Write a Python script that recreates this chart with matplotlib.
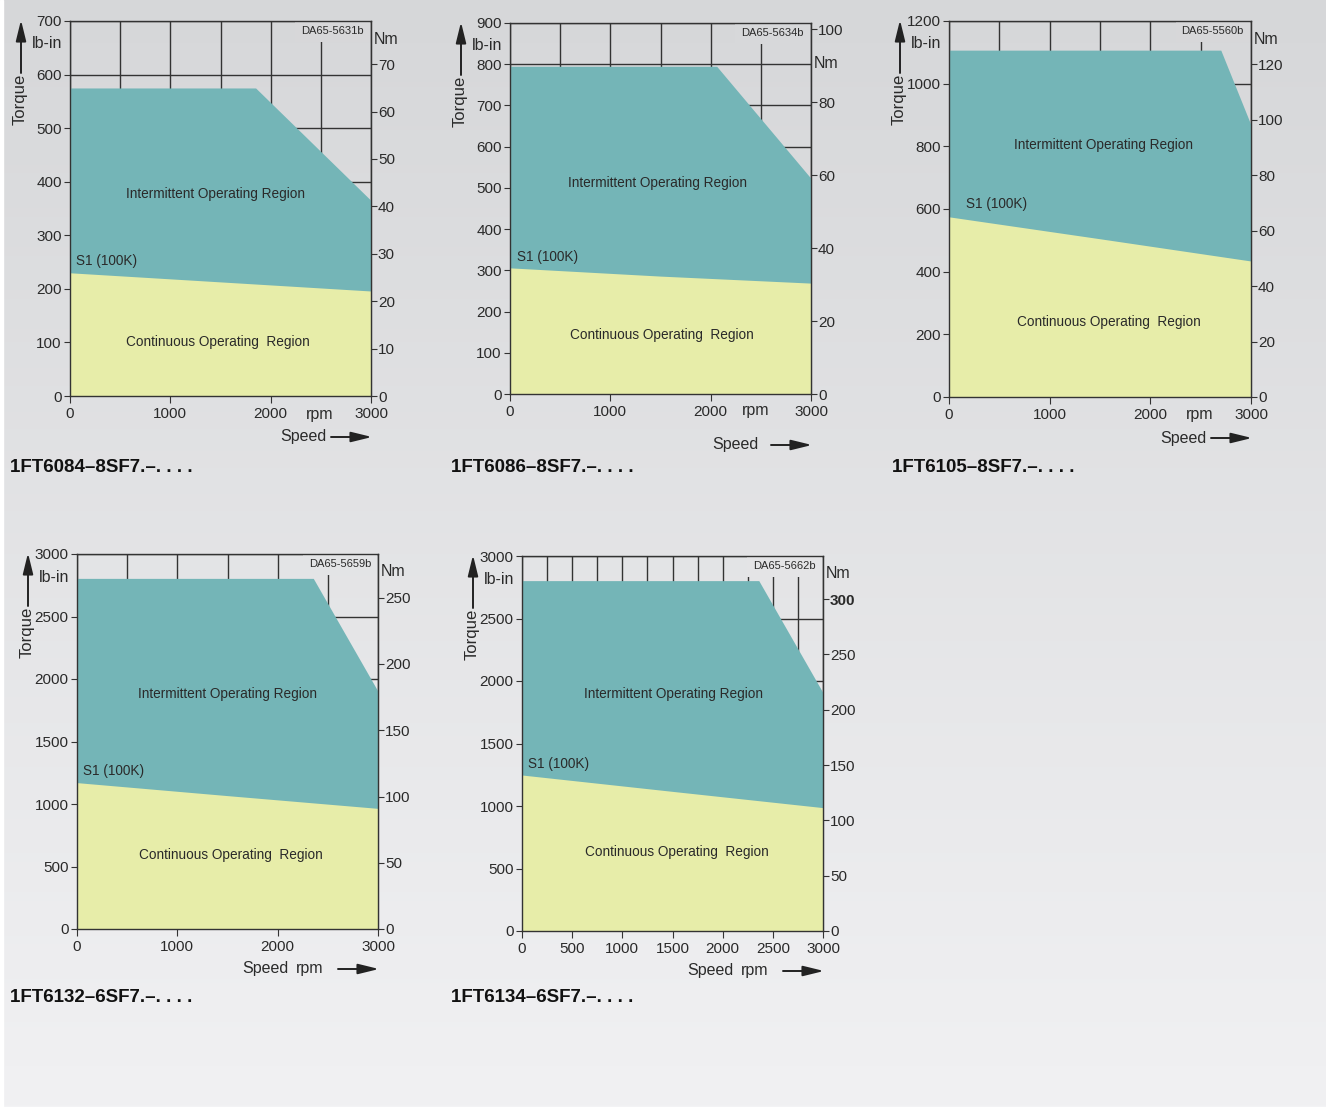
import numpy as np
import matplotlib
matplotlib.use('Agg')
import matplotlib.pyplot as plt
from matplotlib.ticker import MultipleLocator

plt.rcParams['font.family'] = ['Liberation Sans', 'DejaVu Sans']

W, H = 1326, 1109

# torque curves (lb-in over rpm)
names = ['1FT6084–8SF7.–. . . .', '1FT6086–8SF7.–. . . .', '1FT6105–8SF7.–. . . .',
         '1FT6132–6SF7.–. . . .', '1FT6134–6SF7.–. . . .']
codes = ['DA65-5631b', 'DA65-5634b', 'DA65-5560b', 'DA65-5659b', 'DA65-5662b']
peak_speed = [[0, 1850, 3000], [0, 2060, 3000], [0, 2700, 3000], [0, 2355, 3000], [0, 2360, 3000]]
peak_torque = [[575, 575, 365], [795, 795, 523], [1107, 1107, 868], [2805, 2805, 1901], [2803, 2803, 1906]]
s1_speed = [[0, 1500, 3000]] * 5
s1_torque = [[230, 213, 196], [306, 286, 269], [575, 505, 434], [1171, 1067, 965], [1248, 1117, 987]]
y_max = [700, 900, 1200, 3000, 3000]
y_step = [100, 100, 200, 500, 500]
x_label_step = [1000, 1000, 1000, 1000, 500]
x_grid_step = [500, 500, 500, 500, 250]
nm_ticks = [list(range(0, 71, 10)), list(range(0, 101, 20)), list(range(0, 121, 20)),
            list(range(0, 251, 50)), list(range(0, 301, 50))]
nm_factor = [8.85, 8.85, 8.85, 10.6, 8.85]  # lb-in per Nm as printed on each chart

# layout in pixels: axes box (left, right, top, bottom)
boxes = [(70, 371, 21, 396), (510, 811, 23, 394), (949, 1251, 21, 397),
         (77, 378, 554, 929), (522, 823, 556, 931)]
int_lbl = [(215, 194), (657, 183), (1104, 145), (228, 694), (673, 694)]
cont_lbl = [(218, 342), (662, 335), (1109, 322), (231, 855), (677, 852)]
s1_lbl = [(76, 261), (517, 257), (966, 204), (83, 771), (528, 764)]
title_xy = [(10, 468), (451, 468), (892, 468), (10, 998), (451, 998)]
nm_dy = [18, 40, 18, 18, 18]
speed_xy = [(-68, 41), (-76, 51), (-68, 41), (-113, 40), (-113, 40)]
rpm_xy = [(-51, 18), (-55, 16), (-51, 18), (-68, 40), (-68, 40)]
arrow_y = [41, 51, 41, 40, 40]

teal = '#74b5b7'
yellow = '#e7eda9'
ink = '#2a2a2a'
line_c = '#333333'
bg_top = np.array([214, 215, 217]) / 255
bg_bot = np.array([241, 241, 243]) / 255


def bg_at(y):
    t = y / H
    return tuple(bg_top * (1 - t) + bg_bot * t)


fig = plt.figure(figsize=(W / 100, H / 100), dpi=100)
bg = fig.add_axes([0, 0, 1, 1], zorder=-5)
t = np.linspace(0, 1, 256)[:, None]
grad = bg_top[None, None, :] * (1 - t[..., None]) + bg_bot[None, None, :] * t[..., None]
grad = np.repeat(grad, 4, axis=1)
bg.imshow(grad, aspect='auto', extent=(0, W, H, 0))
bg.axvspan(0, 3, color='white')
bg.axhspan(H - 2, H, color='white')
bg.set_xlim(0, W)
bg.set_ylim(H, 0)
bg.axis('off')


def put(s, x, y, **kw):
    kw.setdefault('color', ink)
    kw.setdefault('fontsize', 11)
    fig.text(x / W, 1 - y / H, s, zorder=10, **kw)


def arrow(x0, y0, x1, y1):
    fig.add_artist(matplotlib.patches.FancyArrowPatch(
        (x0 / W, 1 - y0 / H), (x1 / W, 1 - y1 / H), transform=fig.transFigure,
        arrowstyle='-|>,head_length=0.9,head_width=0.22', lw=1.4, color='#222222',
        shrinkA=0, shrinkB=0, mutation_scale=14, zorder=10))


for i in range(5):
    L, R, T, B = boxes[i]
    ax = fig.add_axes([L / W, 1 - B / H, (R - L) / W, (B - T) / H])
    ax.set_facecolor('none')
    ax.set_xlim(0, 3000)
    ax.set_ylim(0, y_max[i])

    # intermittent region first (down to zero), continuous region on top
    ax.fill_between(peak_speed[i], 0, peak_torque[i], color=teal, lw=0, zorder=1)
    ax.fill_between(s1_speed[i], 0, s1_torque[i], color=yellow, lw=0, zorder=1.1)

    ax.xaxis.set_major_locator(MultipleLocator(x_label_step[i]))
    ax.xaxis.set_minor_locator(MultipleLocator(x_grid_step[i]))
    ax.yaxis.set_major_locator(MultipleLocator(y_step[i]))
    ax.set_axisbelow(True)
    ax.grid(True, which='major', color=line_c, lw=1.0)
    ax.grid(True, which='minor', axis='x', color=line_c, lw=1.0)
    ax.tick_params(axis='y', direction='out', length=4, pad=2, labelsize=11,
                   color=line_c, labelcolor=ink)
    ax.tick_params(axis='x', which='major', direction='out', length=5, pad=3,
                   labelsize=11, color=line_c, labelcolor=ink)
    ax.tick_params(axis='x', which='minor', direction='in', length=3, color=line_c)
    for sp in ax.spines.values():
        sp.set_color(line_c)
        sp.set_linewidth(1.0)

    f = nm_factor[i]
    sec = ax.secondary_yaxis('right', functions=(lambda v, f=f: v / f, lambda v, f=f: v * f))
    sec.set_yticks(nm_ticks[i], [str(v) for v in nm_ticks[i]])
    sec.tick_params(direction='out', length=4, pad=1, labelsize=11, color=line_c,
                    labelcolor=ink)
    sec.spines['right'].set_color(line_c)
    if i == 4:
        sec.get_yticklabels()[-1].set_fontweight('bold')

    # labels around the chart
    ax.text(((R - 7) - L) / (R - L), (B - (T + 10)) / (B - T), codes[i],
            transform=ax.transAxes, ha='right', va='center', fontsize=8, color=ink,
            zorder=2, bbox=dict(boxstyle='square,pad=0.55', fc=bg_at(T), ec='none'))
    put('Torque', L - 50, T + 78, rotation=90, ha='center', va='center', fontsize=12)
    arrow(L - 49, T + 52, L - 49, T - 1)
    put('lb-in', L - 8, T + 23, ha='right', va='center', fontsize=11.5)
    put('Nm', R + 3, T + nm_dy[i], ha='left', va='center', fontsize=11.5)
    put('Speed', R + speed_xy[i][0], B + speed_xy[i][1], ha='center', va='center', fontsize=11.5)
    put('rpm', R + rpm_xy[i][0], B + rpm_xy[i][1], ha='center', va='center', fontsize=11.5)
    arrow(R - 40, B + arrow_y[i], R + 1, B + arrow_y[i])
    put('Intermittent Operating Region', *int_lbl[i], ha='center', va='center', fontsize=9.8)
    put('Continuous Operating  Region', *cont_lbl[i], ha='center', va='center', fontsize=9.8)
    put('S1 (100K)', *s1_lbl[i], ha='left', va='center', fontsize=9.8)
    put(names[i], *title_xy[i], ha='left', va='center', fontsize=13.5, fontweight='bold',
        color='#111111')

fig.savefig('out.png', dpi=100)
